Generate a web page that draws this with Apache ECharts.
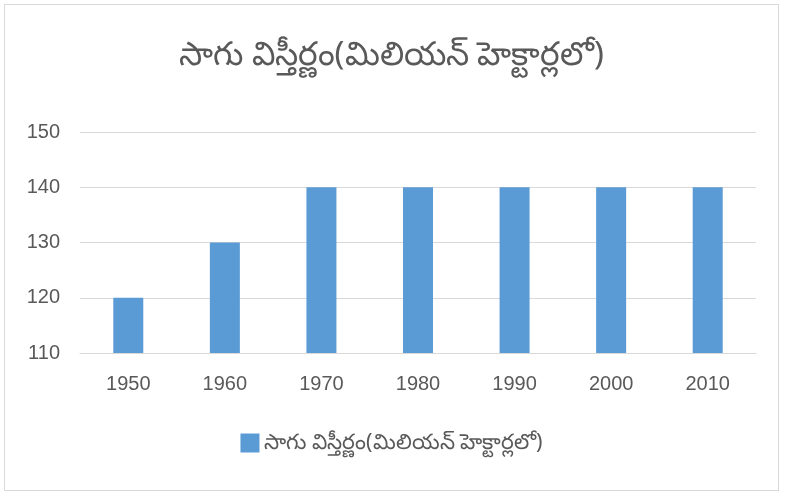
<!DOCTYPE html>
<html>
<head>
<meta charset="utf-8">
<script src="https://cdn.jsdelivr.net/npm/echarts@6/dist/echarts.min.js"></script>
<style>
  html, body { margin: 0; padding: 0; background: #fff; }
  #chart { position: absolute; left: 4px; top: 4px; width: 775px; height: 487px; border: 1px solid #d9d9d9; box-sizing: border-box; }
</style>
</head>
<body>
<div id="chart"></div>
<script>
// data
const years = ['1950', '1960', '1970', '1980', '1990', '2000', '2010']
const area = [120, 130, 140, 140, 140, 140, 140]
const seriesName = 'సాగు విస్తీర్ణం(మిలియన్ హెక్టార్లలో)'

const myChart = echarts.init(document.getElementById('chart'))
const option = {
  animation: false,
  title: {
    text: seriesName,
    left: 'center',
    top: 29,
    textStyle: { color: '#595959', fontSize: 33, fontWeight: 'normal', fontFamily: 'Noto Sans, sans-serif' }
  },
  grid: { left: 75, right: 22, top: 127, bottom: 137 },
  legend: {
    bottom: 31,
    left: 'center',
    itemWidth: 19,
    itemHeight: 19,
    itemGap: 10,
    icon: 'rect',
    textStyle: { color: '#595959', fontSize: 21.5, fontFamily: 'Noto Sans, sans-serif' },
    data: [seriesName]
  },
  xAxis: {
    type: 'category',
    data: years,
    axisLine: { lineStyle: { color: '#d9d9d9' } },
    axisTick: { show: false },
    axisLabel: { color: '#595959', fontSize: 20, margin: 21, fontFamily: 'Liberation Sans, sans-serif' }
  },
  yAxis: {
    type: 'value',
    min: 110,
    max: 150,
    interval: 10,
    axisLine: { show: false },
    axisTick: { show: false },
    splitLine: { lineStyle: { color: '#d9d9d9' } },
    axisLabel: { color: '#595959', fontSize: 20, margin: 20, fontFamily: 'Liberation Sans, sans-serif' }
  },
  series: [
    {
      name: seriesName,
      type: 'bar',
      barWidth: 30,
      data: area,
      itemStyle: { color: '#5b9bd5' }
    }
  ]
}
myChart.setOption(option)
</script>
</body>
</html>
